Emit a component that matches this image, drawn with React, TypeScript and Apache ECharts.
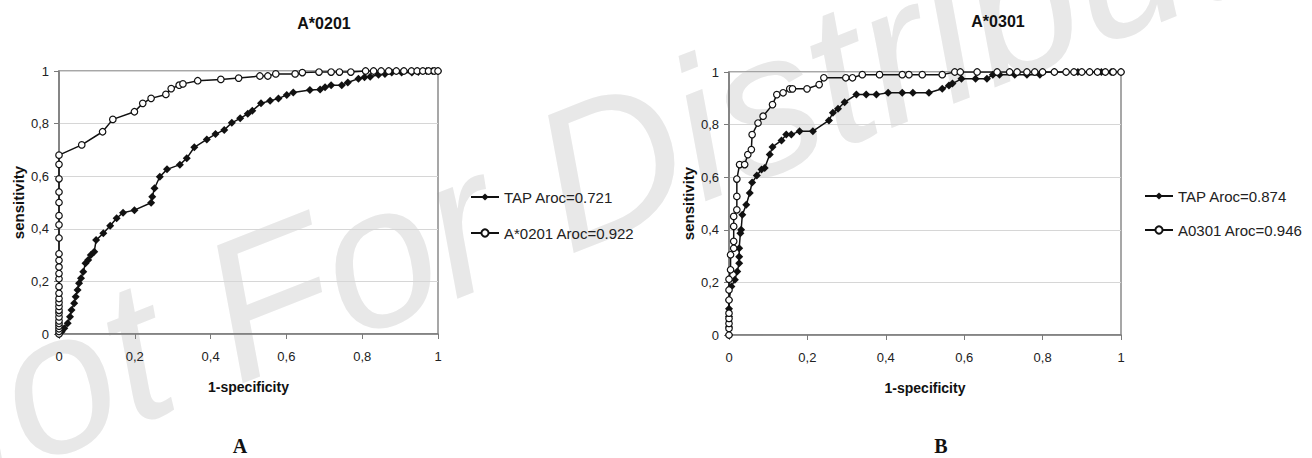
import React, { useEffect, useRef } from "react";
import * as echarts from "echarts";

// ---- data ----
const tickValues = [0, 0.2, 0.4, 0.6, 0.8, 1];
const tickLabels = ["0", "0,2", "0,4", "0,6", "0,8", "1"];

const titleA = "A*0201";
const titleB = "A*0301";
const namesA = ["TAP Aroc=0.721", "A*0201 Aroc=0.922"];
const namesB = ["TAP Aroc=0.874", "A0301 Aroc=0.946"];
const xAxisTitle = "1-specificity";
const yAxisTitle = "sensitivity";
const panelLetters = ["A", "B"];
const watermark = "Not For Distribution";

// panel A, TAP curve [1-specificity, sensitivity]
const tapA: number[][] = [
  [0, 0], [0.007, 0.009], [0.014, 0.022], [0.023, 0.041], [0.029, 0.066], [0.033, 0.091],
  [0.04, 0.117], [0.044, 0.142], [0.049, 0.167], [0.053, 0.193], [0.058, 0.212], [0.064, 0.237],
  [0.07, 0.269], [0.077, 0.281], [0.084, 0.3], [0.093, 0.313], [0.098, 0.357], [0.117, 0.383],
  [0.135, 0.412], [0.152, 0.44], [0.169, 0.461], [0.199, 0.471], [0.243, 0.499], [0.246, 0.522],
  [0.252, 0.554], [0.266, 0.598], [0.285, 0.626], [0.319, 0.644], [0.337, 0.668], [0.357, 0.71],
  [0.39, 0.74], [0.413, 0.76], [0.436, 0.776], [0.456, 0.803], [0.478, 0.82], [0.498, 0.837],
  [0.51, 0.849], [0.533, 0.877], [0.557, 0.887], [0.579, 0.895], [0.601, 0.909], [0.618, 0.918],
  [0.662, 0.928], [0.689, 0.93], [0.702, 0.938], [0.718, 0.946], [0.746, 0.946], [0.762, 0.956],
  [0.79, 0.971], [0.806, 0.976], [0.821, 0.978], [0.843, 0.986], [0.86, 0.989], [0.878, 0.994],
  [0.904, 0.994], [0.931, 0.994], [0.948, 0.996], [0.97, 1], [0.985, 1], [1, 1],
];

// panel A, A*0201 curve
const hlaA0201: number[][] = [
  [0, 0], [0, 0.01], [0, 0.02], [0, 0.03], [0, 0.04], [0, 0.05], [0, 0.065], [0, 0.08],
  [0, 0.09], [0, 0.105], [0, 0.12], [0, 0.135], [0, 0.155], [0, 0.18], [0, 0.21], [0, 0.23],
  [0, 0.255], [0, 0.28], [0, 0.305], [0, 0.365], [0, 0.415], [0, 0.45], [0, 0.5], [0, 0.54],
  [0, 0.59], [0, 0.645], [0, 0.68], [0.06, 0.719], [0.115, 0.769], [0.142, 0.816],
  [0.199, 0.845], [0.221, 0.877], [0.243, 0.896], [0.282, 0.911], [0.296, 0.933],
  [0.317, 0.946], [0.327, 0.951], [0.366, 0.963], [0.427, 0.968], [0.474, 0.973],
  [0.53, 0.981], [0.551, 0.981], [0.572, 0.989], [0.623, 0.989], [0.642, 0.994],
  [0.686, 0.996], [0.718, 0.996], [0.74, 0.996], [0.77, 0.996], [0.809, 1], [0.83, 1],
  [0.85, 1], [0.87, 1], [0.89, 1], [0.91, 1], [0.93, 1], [0.945, 1], [0.96, 1], [0.975, 1],
  [0.99, 1], [1, 1],
];

// panel B, TAP curve
const tapB: number[][] = [
  [0, 0], [0, 0.03], [0, 0.07], [0, 0.1], [0, 0.133], [0.006, 0.184], [0.015, 0.21],
  [0.021, 0.241], [0.026, 0.273], [0.026, 0.298], [0.026, 0.33], [0.029, 0.387], [0.031, 0.4],
  [0.034, 0.457], [0.044, 0.495], [0.053, 0.54], [0.059, 0.58], [0.071, 0.606], [0.083, 0.629],
  [0.091, 0.635], [0.104, 0.686], [0.111, 0.715], [0.134, 0.74], [0.146, 0.762], [0.159, 0.762],
  [0.18, 0.775], [0.214, 0.775], [0.255, 0.816], [0.265, 0.845], [0.278, 0.86], [0.295, 0.885],
  [0.325, 0.914], [0.35, 0.914], [0.376, 0.914], [0.406, 0.921], [0.442, 0.921], [0.469, 0.921],
  [0.51, 0.921], [0.544, 0.936], [0.561, 0.949], [0.57, 0.956], [0.593, 0.974], [0.629, 0.974],
  [0.658, 0.974], [0.673, 0.99], [0.69, 0.99], [0.729, 0.99], [0.76, 0.99], [0.793, 0.99],
  [0.8, 1], [0.83, 1], [0.86, 1], [0.89, 1], [0.92, 1], [0.95, 1], [0.975, 1], [1, 1],
];

// panel B, A0301 curve
const hlaA0301: number[][] = [
  [0, 0], [0, 0.025], [0, 0.044], [0, 0.063], [0, 0.083], [0, 0.133], [0, 0.171], [0, 0.212],
  [0.004, 0.248], [0.004, 0.305], [0.012, 0.33], [0.012, 0.356], [0.012, 0.413], [0.012, 0.451],
  [0.02, 0.476], [0.02, 0.527], [0.02, 0.593], [0.027, 0.648], [0.04, 0.648], [0.048, 0.686],
  [0.057, 0.705], [0.059, 0.762], [0.074, 0.806], [0.087, 0.832], [0.111, 0.876], [0.122, 0.914],
  [0.138, 0.921], [0.155, 0.936], [0.162, 0.936], [0.199, 0.936], [0.23, 0.952], [0.242, 0.978],
  [0.298, 0.978], [0.315, 0.978], [0.34, 0.99], [0.384, 0.99], [0.442, 0.99], [0.459, 0.99],
  [0.493, 0.99], [0.544, 0.99], [0.576, 1], [0.59, 1], [0.633, 1], [0.684, 1], [0.716, 1],
  [0.735, 1], [0.76, 1], [0.78, 1], [0.8, 1], [0.83, 1], [0.86, 1], [0.88, 1], [0.9, 1],
  [0.92, 1], [0.94, 1], [0.96, 1], [0.98, 1], [1, 1],
];

const SANS = "'Liberation Sans', Arial, sans-serif";
const SERIF = "'Liberation Serif', 'Times New Roman', serif";

function fmtTick(v: number): string {
  const i = tickValues.findIndex((t) => Math.abs(t - v) < 1e-9);
  return i >= 0 ? tickLabels[i] : "";
}

function makeAxis(gridIndex: number, isX: boolean) {
  return {
    type: "value",
    gridIndex,
    min: 0,
    max: 1,
    interval: 0.2,
    name: isX ? xAxisTitle : yAxisTitle,
    nameLocation: "middle",
    nameGap: isX ? 46 : 33,
    nameTextStyle: {
      fontFamily: SANS,
      fontWeight: "bold",
      fontSize: isX ? 14 : 15,
      color: "#111",
    },
    axisLine: { show: true, lineStyle: { color: "#7a7a7a", width: 1.5 } },
    axisTick: { show: true, length: 5, lineStyle: { color: "#7a7a7a" } },
    axisLabel: {
      fontFamily: SANS,
      fontSize: 13,
      color: "#222",
      margin: isX ? 16 : 10,
      formatter: (v: number) => fmtTick(v),
    },
    splitLine: isX
      ? { show: false }
      : { show: true, lineStyle: { color: "#d6d6d6", width: 1 } },
  };
}

function tapSeries(name: string, data: number[][], idx: number) {
  return {
    type: "line",
    name,
    xAxisIndex: idx,
    yAxisIndex: idx,
    data,
    symbol: "diamond",
    symbolSize: 8,
    itemStyle: { color: "#111" },
    lineStyle: { color: "#111", width: 1.5 },
    z: 3,
  };
}

function hlaSeries(name: string, data: number[][], idx: number) {
  return {
    type: "line",
    name,
    xAxisIndex: idx,
    yAxisIndex: idx,
    data,
    symbol: "circle",
    symbolSize: 6.5,
    itemStyle: { color: "#ffffff", borderColor: "#111", borderWidth: 1.2 },
    lineStyle: { color: "#111", width: 1.5 },
    z: 4,
  };
}

export default function App() {
  const ref = useRef<HTMLDivElement>(null);

  useEffect(() => {
    if (!ref.current) return;
    const chart = echarts.init(ref.current, undefined, { renderer: "svg" });
    const legendBase = {
      orient: "vertical",
      itemWidth: 28,
      itemHeight: 9,
      itemGap: 18,
      textStyle: { fontFamily: SANS, fontSize: 15, color: "#222", lineHeight: 18 },
      selectedMode: false,
    };
    chart.setOption({
      animation: false,
      backgroundColor: "#ffffff",
      grid: [
        { left: 59, top: 71, width: 379, height: 263, show: true, borderColor: "#8a8a8a", borderWidth: 1.5 },
        { left: 729, top: 72, width: 392, height: 263, show: true, borderColor: "#8a8a8a", borderWidth: 1.5 },
      ],
      xAxis: [makeAxis(0, true), makeAxis(1, true)],
      yAxis: [makeAxis(0, false), makeAxis(1, false)],
      legend: [
        { ...legendBase, data: namesA, left: 465, top: 183 },
        { ...legendBase, data: namesB, left: 1139, top: 182, itemGap: 16 },
      ],
      series: [
        tapSeries(namesA[0], tapA, 0),
        hlaSeries(namesA[1], hlaA0201, 0),
        tapSeries(namesB[0], tapB, 1),
        hlaSeries(namesB[1], hlaA0301, 1),
      ],
      graphic: [
        {
          type: "text",
          x: -130,
          y: 455,
          rotation: 0.375,
          z: -10,
          silent: true,
          style: {
            text: watermark,
            font: `italic 200px ${SANS}`,
            fill: "#e8e8e8",
            textAlign: "left",
            textVerticalAlign: "middle",
          },
        },
        {
          type: "text",
          x: 324,
          y: 23,
          style: { text: titleA, font: `bold 16px ${SANS}`, fill: "#111", textAlign: "center", textVerticalAlign: "middle" },
        },
        {
          type: "text",
          x: 998,
          y: 21,
          style: { text: titleB, font: `bold 16px ${SANS}`, fill: "#111", textAlign: "center", textVerticalAlign: "middle" },
        },
        {
          type: "text",
          x: 240,
          y: 446,
          style: { text: panelLetters[0], font: `bold 20px ${SERIF}`, fill: "#111", textAlign: "center", textVerticalAlign: "middle" },
        },
        {
          type: "text",
          x: 941,
          y: 446,
          style: { text: panelLetters[1], font: `bold 20px ${SERIF}`, fill: "#111", textAlign: "center", textVerticalAlign: "middle" },
        },
      ],
    });
    return () => chart.dispose();
  }, []);

  return (
    <div
      ref={ref}
      style={{ position: "absolute", left: 0, top: 0, width: 1312, height: 458, background: "#fff" }}
    />
  );
}
